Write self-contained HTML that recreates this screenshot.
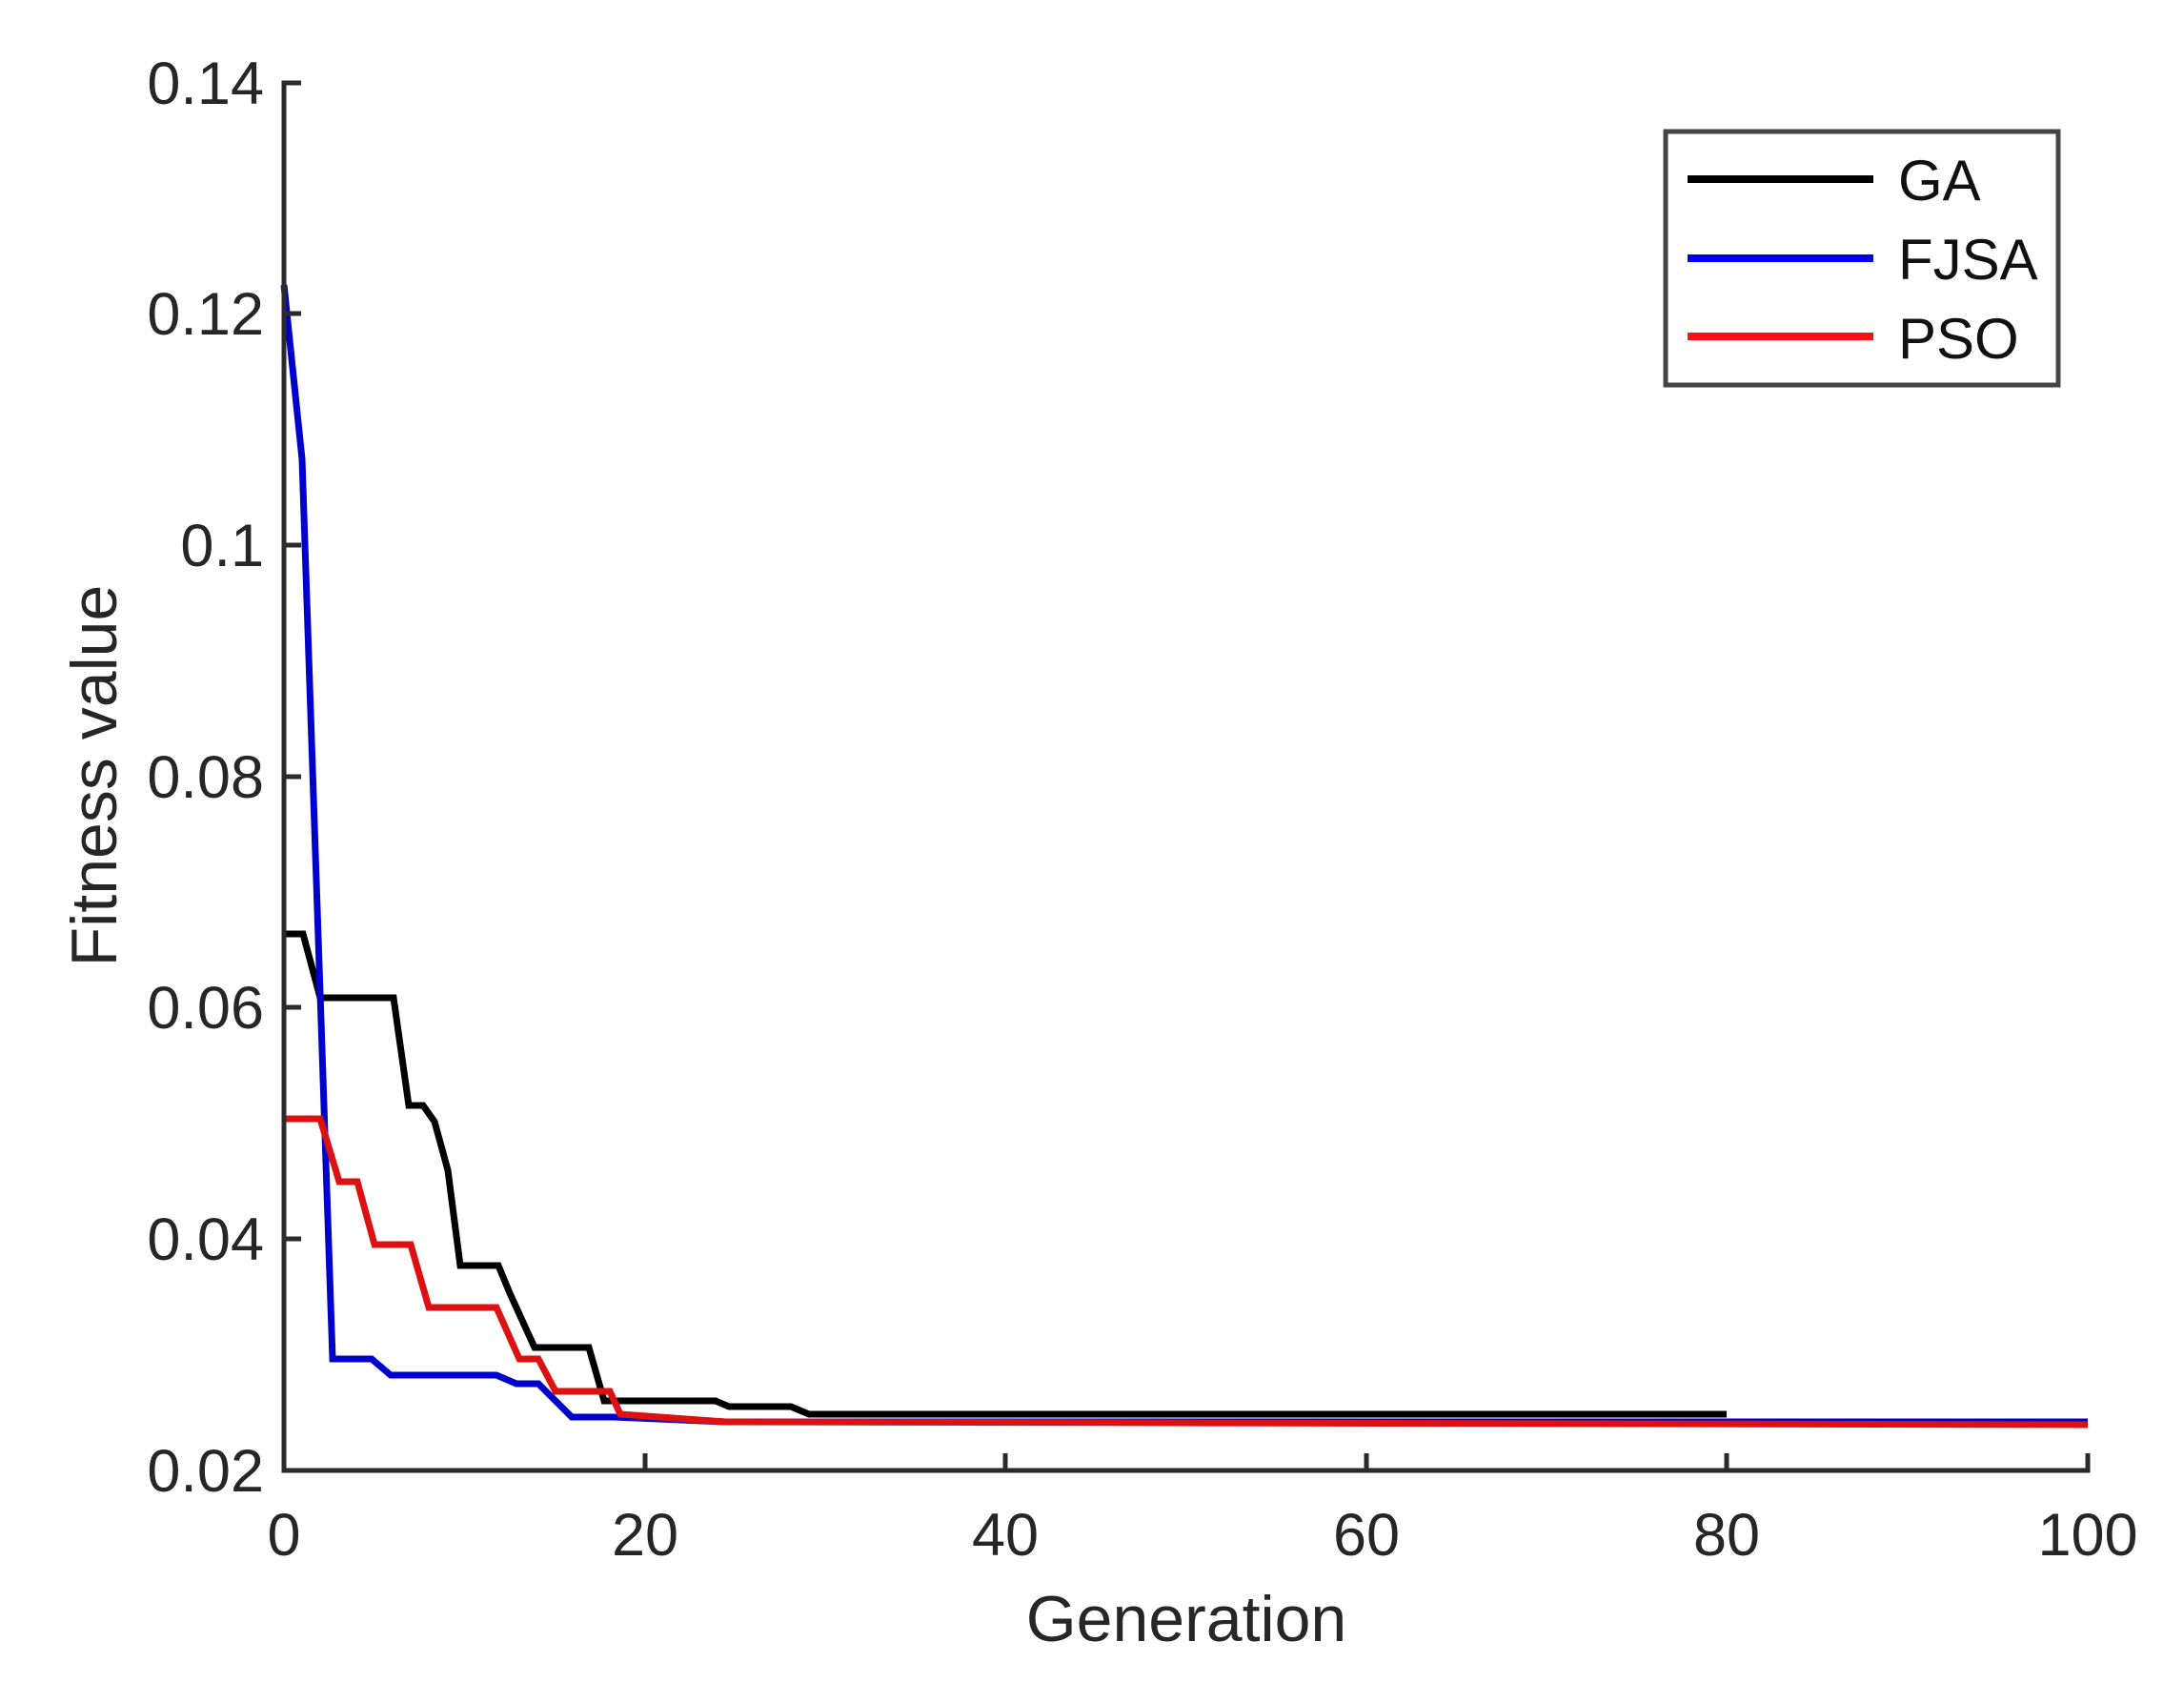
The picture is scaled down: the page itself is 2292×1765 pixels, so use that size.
<!DOCTYPE html>
<html><head><meta charset="utf-8"><style>body{margin:0;background:#fff}svg{display:block}</style></head>
<body>
<svg width="2292" height="1765" viewBox="0 0 2292 1765" xmlns="http://www.w3.org/2000/svg" font-family="Liberation Sans, Arial, sans-serif" fill="#262626">
<g stroke-linejoin="miter">
<polyline fill="none" stroke="#000" stroke-width="7" points="298,980 318,980 336,1047 413,1047 429,1160 444,1160 456,1177 470,1228 483,1328 523,1328 535,1357 561,1414 618,1414 634,1470 751,1470 765,1476 830,1476 849,1484 1812,1484"/>
<polyline fill="none" stroke="#0000cc" stroke-width="7" points="298,299 317,482 349,1426 390,1426 410,1443 521,1443 542,1452 565,1452 600,1487 644,1487 761,1492 2191,1492"/>
<polyline fill="none" stroke="#dd1111" stroke-width="7" points="298,1174 336,1174 356,1240 375,1240 393,1306 431,1306 450,1372 521,1372 545,1426 565,1426 583,1460 640,1460 651,1484 761,1492 2191,1495"/>
</g>
<g stroke="#2a2a2a" stroke-width="5" fill="none">
<polyline points="316,87 298,87 298,1543 2191,1543 2191,1525"/>
<line x1="298" y1="329" x2="316" y2="329"/><line x1="298" y1="572" x2="316" y2="572"/>
<line x1="298" y1="815" x2="316" y2="815"/><line x1="298" y1="1057" x2="316" y2="1057"/>
<line x1="298" y1="1300" x2="316" y2="1300"/>
<line x1="677" y1="1543" x2="677" y2="1525"/><line x1="1055" y1="1543" x2="1055" y2="1525"/>
<line x1="1434" y1="1543" x2="1434" y2="1525"/><line x1="1812" y1="1543" x2="1812" y2="1525"/>
</g>
<g font-size="63" text-anchor="end">
<text x="277" y="109">0.14</text><text x="277" y="351">0.12</text><text x="277" y="594">0.1</text>
<text x="277" y="837">0.08</text><text x="277" y="1079">0.06</text><text x="277" y="1322">0.04</text>
<text x="277" y="1565">0.02</text>
</g>
<g font-size="63" text-anchor="middle">
<text x="298" y="1632">0</text><text x="677" y="1632">20</text><text x="1055" y="1632">40</text>
<text x="1434" y="1632">60</text><text x="1812" y="1632">80</text><text x="2191" y="1632">100</text>
<text x="1245" y="1722" font-size="68">Generation</text>
<text transform="translate(122,814) rotate(-90)" font-size="68">Fitness value</text>
</g>
<rect x="1748" y="138" width="412" height="266" fill="#fff" stroke="#444" stroke-width="5"/>
<line x1="1771" y1="188" x2="1966" y2="188" stroke="#000" stroke-width="8"/>
<line x1="1771" y1="271" x2="1966" y2="271" stroke="#0000ee" stroke-width="8"/>
<line x1="1771" y1="353" x2="1966" y2="353" stroke="#ff1111" stroke-width="8"/>
<g font-size="60" fill="#111">
<text x="1992" y="210">GA</text><text x="1992" y="293">FJSA</text><text x="1992" y="376">PSO</text>
</g>
</svg>
</body></html>
